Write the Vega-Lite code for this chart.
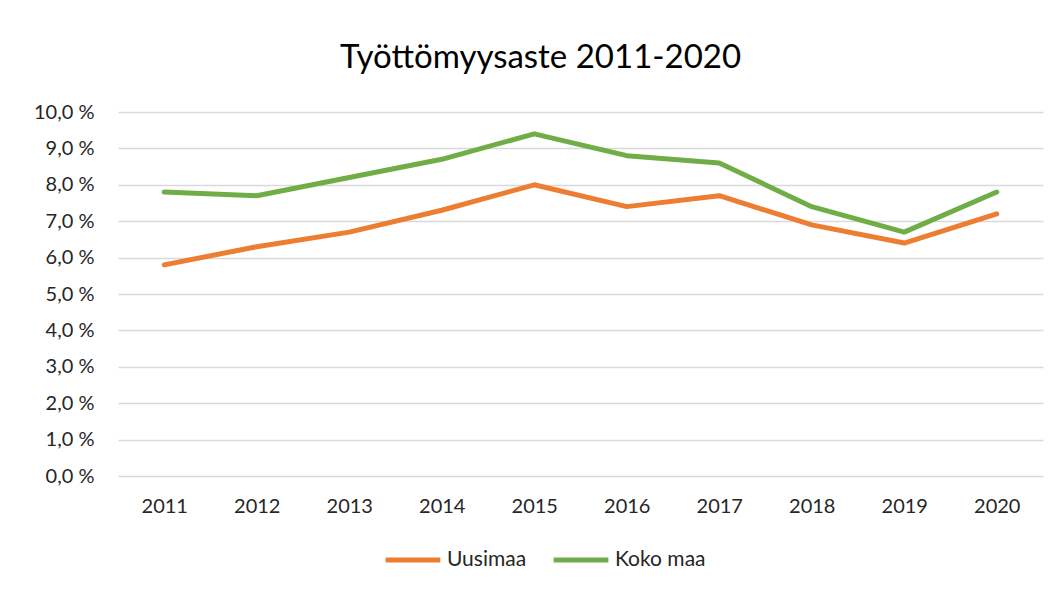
{
  "$schema": "https://vega.github.io/schema/vega-lite/v6.json",
  "autosize": "none",
  "width": 925,
  "height": 364,
  "padding": {"left": 118, "top": 112, "right": 18, "bottom": 116},
  "background": "white",
  "title": {
    "text": "Työttömyysaste 2011-2020",
    "font": "Lato",
    "fontSize": 33,
    "fontWeight": "normal",
    "color": "#000000",
    "anchor": "middle",
    "frame": "group",
    "dx": -40,
    "offset": 27
  },
  "data": {
    "values": [
      {"vuosi": "2011", "sarja": "Uusimaa", "arvo": 5.8},
      {"vuosi": "2012", "sarja": "Uusimaa", "arvo": 6.3},
      {"vuosi": "2013", "sarja": "Uusimaa", "arvo": 6.7},
      {"vuosi": "2014", "sarja": "Uusimaa", "arvo": 7.3},
      {"vuosi": "2015", "sarja": "Uusimaa", "arvo": 8.0},
      {"vuosi": "2016", "sarja": "Uusimaa", "arvo": 7.4},
      {"vuosi": "2017", "sarja": "Uusimaa", "arvo": 7.7},
      {"vuosi": "2018", "sarja": "Uusimaa", "arvo": 6.9},
      {"vuosi": "2019", "sarja": "Uusimaa", "arvo": 6.4},
      {"vuosi": "2020", "sarja": "Uusimaa", "arvo": 7.2},
      {"vuosi": "2011", "sarja": "Koko maa", "arvo": 7.8},
      {"vuosi": "2012", "sarja": "Koko maa", "arvo": 7.7},
      {"vuosi": "2013", "sarja": "Koko maa", "arvo": 8.2},
      {"vuosi": "2014", "sarja": "Koko maa", "arvo": 8.7},
      {"vuosi": "2015", "sarja": "Koko maa", "arvo": 9.4},
      {"vuosi": "2016", "sarja": "Koko maa", "arvo": 8.8},
      {"vuosi": "2017", "sarja": "Koko maa", "arvo": 8.6},
      {"vuosi": "2018", "sarja": "Koko maa", "arvo": 7.4},
      {"vuosi": "2019", "sarja": "Koko maa", "arvo": 6.7},
      {"vuosi": "2020", "sarja": "Koko maa", "arvo": 7.8}
    ]
  },
  "mark": {"type": "line", "strokeWidth": 5, "strokeCap": "round", "strokeJoin": "round"},
  "encoding": {
    "x": {
      "field": "vuosi",
      "type": "ordinal",
      "scale": {"type": "point", "padding": 0.5},
      "axis": {
        "title": null,
        "labelAngle": 0,
        "domain": false,
        "ticks": false,
        "labelPadding": 20,
        "labelFont": "Lato",
        "labelFontSize": 20,
        "labelColor": "#262626"
      }
    },
    "y": {
      "field": "arvo",
      "type": "quantitative",
      "scale": {"domain": [0, 10], "nice": false},
      "axis": {
        "title": null,
        "values": [0, 1, 2, 3, 4, 5, 6, 7, 8, 9, 10],
        "labelExpr": "replace(format(datum.value, '.1f'), '.', ',') + ' %'",
        "domain": false,
        "ticks": false,
        "labelPadding": 24,
        "labelFont": "Lato",
        "labelFontSize": 20,
        "labelColor": "#262626",
        "gridColor": "#d9d9d9",
        "gridWidth": 1.5
      }
    },
    "color": {
      "field": "sarja",
      "type": "nominal",
      "scale": {"domain": ["Uusimaa", "Koko maa"], "range": ["#ED7D31", "#70AD47"]},
      "legend": {
        "title": null,
        "orient": "none",
        "direction": "horizontal",
        "legendX": 265,
        "legendY": 418,
        "symbolType": "stroke",
        "symbolSize": 3000,
        "symbolStrokeWidth": 5,
        "labelFont": "Lato",
        "labelFontSize": 21,
        "labelColor": "#262626",
        "labelOffset": 4,
        "columnPadding": 16
      }
    }
  },
  "config": {"view": {"stroke": null}}
}
